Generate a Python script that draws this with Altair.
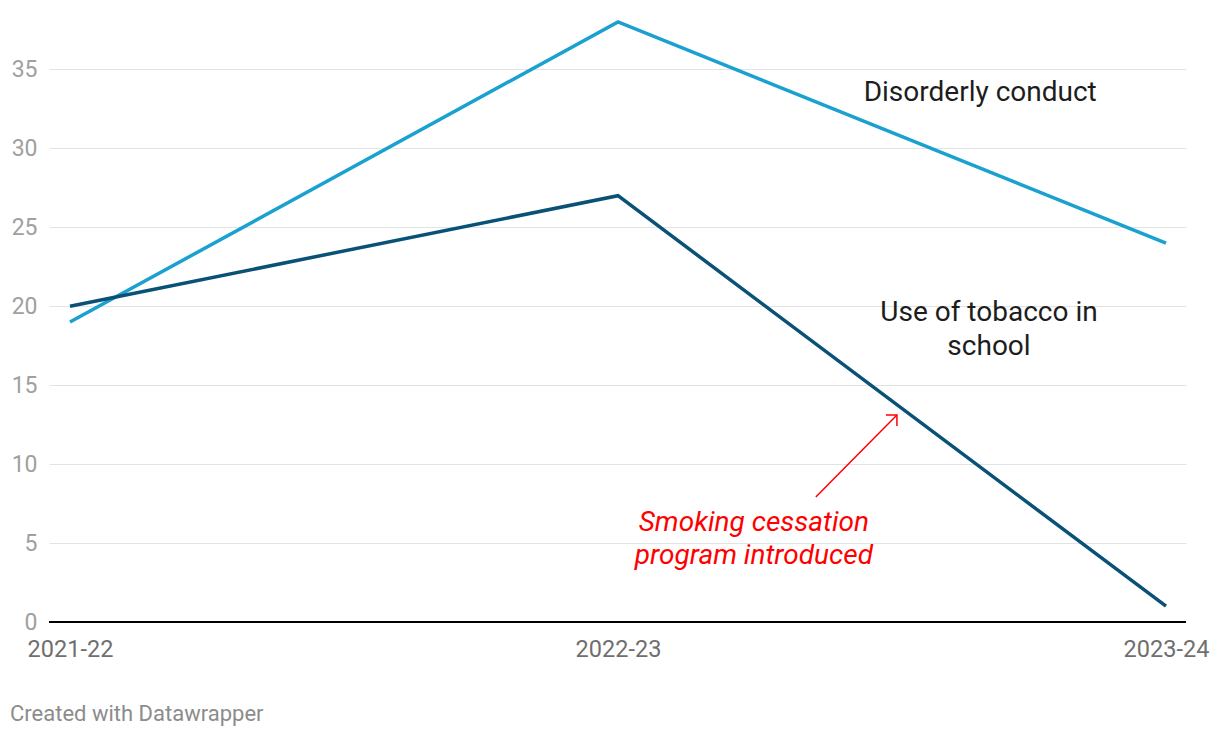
import altair as alt
import pandas as pd

years = ["2021-22", "2022-23", "2023-24"]
disorderly = [19, 38, 24]
tobacco = [20, 27, 1]
series_names = ["Disorderly conduct", "Use of tobacco in school"]
series_colors = ["#1aa1cf", "#0a5176"]
y_ticks = [0, 5, 10, 15, 20, 25, 30, 35]

rows = []
for i, y in enumerate(years):
    rows.append({"idx": i, "year": y, "series": series_names[0], "value": disorderly[i]})
for i, y in enumerate(years):
    rows.append({"idx": i, "year": y, "series": series_names[1], "value": tobacco[i]})
df = pd.DataFrame(rows)

label_expr = " : ".join(
    [f"datum.value == {i} ? '{y}'" for i, y in enumerate(years)]
) + " : ''"

x_scale = alt.Scale(domain=[-0.0383, 2.0365], nice=False, zero=False)
y_scale = alt.Scale(domain=[0, 38], nice=False)

x_enc = alt.X("idx:Q", scale=x_scale,
              axis=alt.Axis(values=[0, 1, 2], labelExpr=label_expr, title=None,
                            grid=False, ticks=False, domain=False,
                            labelFont="Roboto", labelFontSize=23.5, labelColor="#6f6f6f",
                            labelPadding=15, labelFlush=False))
y_enc = alt.Y("value:Q", scale=y_scale,
              axis=alt.Axis(values=y_ticks, title=None, ticks=False, domain=False,
                            grid=True, gridColor="#e3e3e3", gridWidth=1,
                            labelFont="Roboto", labelFontSize=23, labelColor="#a0a0a0",
                            labelPadding=12))

color = alt.Color("series:N", scale=alt.Scale(domain=series_names, range=series_colors),
                  legend=None)

lines = alt.Chart(df).mark_line(strokeWidth=3.5).encode(
    x=x_enc, y=y_enc, color=color, order="idx:Q",
    detail="series:N"
)

zero = alt.Chart(pd.DataFrame({"v": [0]})).mark_rule(color="#000000", strokeWidth=2).encode(
    y=alt.Y("v:Q", scale=y_scale)
)

labels_df = pd.DataFrame({
    "x": [1.661, 1.677],
    "y": [33.5, 19.6],
    "text": ["Disorderly conduct", "Use of tobacco in\nschool"],
})
labels = alt.Chart(labels_df).mark_text(
    font="Roboto", fontSize=28, color="#1d1d1d", align="center", baseline="middle",
    lineBreak="\n", lineHeight=34
).encode(x=alt.X("x:Q", scale=x_scale), y=alt.Y("y:Q", scale=y_scale), text="text:N")

ann_df = pd.DataFrame({"x": [1.248], "y": [6.25],
                       "text": ["Smoking cessation\nprogram introduced"]})
ann = alt.Chart(ann_df).mark_text(
    font="Roboto", fontSize=28, fontStyle="italic", color="#ff0000", align="center",
    baseline="middle", lineBreak="\n", lineHeight=33
).encode(x=alt.X("x:Q", scale=x_scale), y=alt.Y("y:Q", scale=y_scale), text="text:N")

arrow_df = pd.DataFrame({"x": [1.361, 1.509], "y": [7.92, 13.11], "o": [0, 1]})
shaft = alt.Chart(arrow_df).mark_line(color="#ff0000", strokeWidth=1.5).encode(
    x=alt.X("x:Q", scale=x_scale), y=alt.Y("y:Q", scale=y_scale), order="o:Q"
)
head = alt.Chart(arrow_df.iloc[[1]]).mark_point(
    shape="M-1,0L0,0L0,1", filled=False, color="#ff0000", strokeWidth=1.5, size=480,
    opacity=1
).encode(x=alt.X("x:Q", scale=x_scale), y=alt.Y("y:Q", scale=y_scale))

footer = alt.Chart(pd.DataFrame({"t": ["Created with Datawrapper"]})).mark_text(
    font="Roboto", fontSize=22, color="#8c8c8c", align="left", baseline="middle"
).encode(x=alt.value(-39), y=alt.value(692), text="t:N")

chart = alt.layer(zero, lines, labels, ann, shaft, head, footer).properties(
    width=1137, height=600,
    background="#ffffff",
    autosize=alt.AutoSizeParams(type="none"),
    padding={"left": 41, "top": 14, "right": 26, "bottom": 108},
).configure_view(stroke=None)

chart.save("out.html", embed_options={"renderer": "svg", "actions": False})
